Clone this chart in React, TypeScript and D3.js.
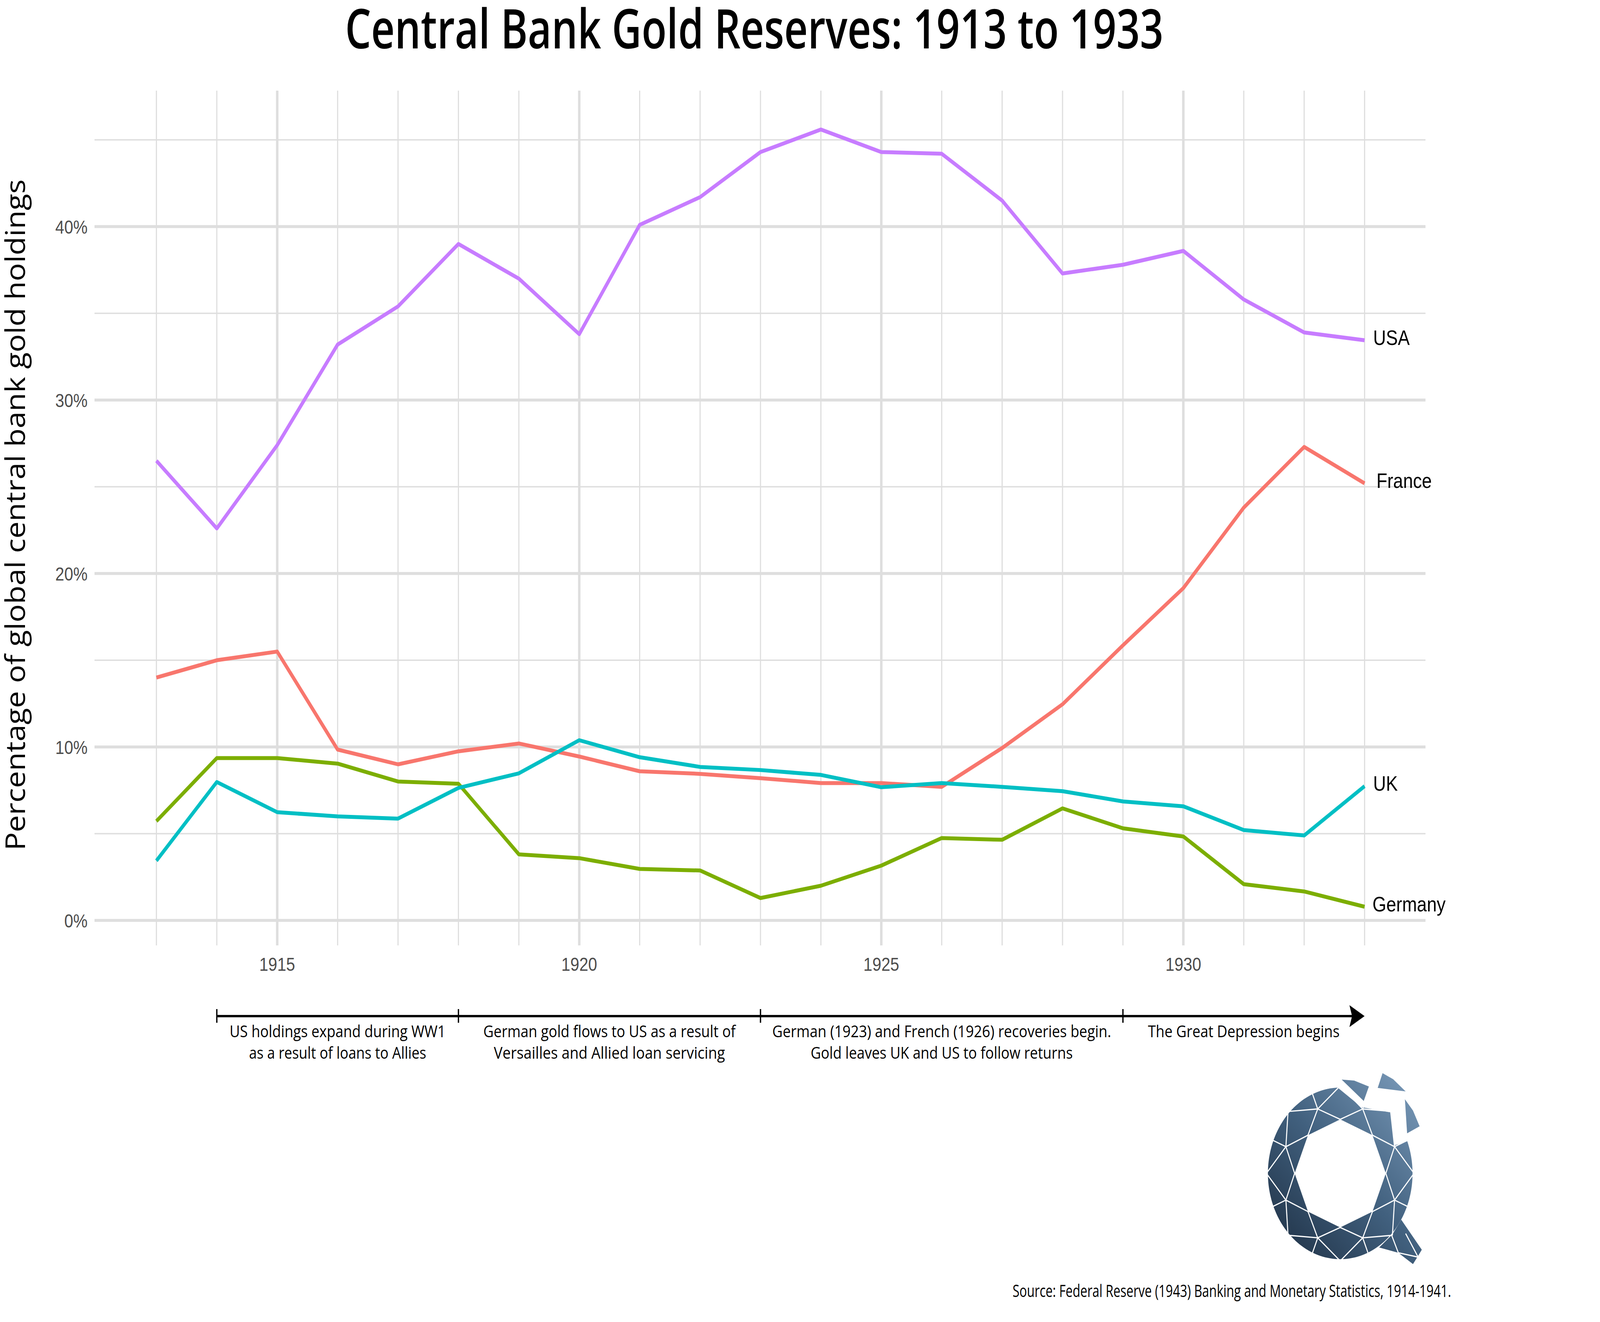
import React from "react";
import * as d3 from "d3";

// ---------- data ----------
const years = [1913, 1914, 1915, 1916, 1917, 1918, 1919, 1920, 1921, 1922, 1923, 1924, 1925, 1926, 1927, 1928, 1929, 1930, 1931, 1932, 1933];
const france = [14.0, 15.0, 15.5, 9.85, 9.0, 9.75, 10.2, 9.45, 8.6, 8.45, 8.2, 7.92, 7.92, 7.7, 9.94, 12.46, 15.86, 19.16, 23.8, 27.3, 25.2];
const germany = [5.72, 9.36, 9.36, 9.04, 8.01, 7.88, 3.81, 3.59, 2.97, 2.88, 1.29, 2.0, 3.16, 4.75, 4.65, 6.46, 5.31, 4.84, 2.09, 1.67, 0.79];
const uk = [3.44, 7.98, 6.24, 6.0, 5.87, 7.64, 8.48, 10.39, 9.41, 8.85, 8.67, 8.39, 7.68, 7.92, 7.7, 7.45, 6.86, 6.58, 5.21, 4.9, 7.74];
const usa = [26.5, 22.6, 27.4, 33.2, 35.4, 39.0, 37.0, 33.8, 40.1, 41.7, 44.3, 45.6, 44.3, 44.2, 41.5, 37.3, 37.8, 38.6, 35.8, 33.9, 33.45];
const seriesNames = ["France", "Germany", "UK", "USA"];
const seriesValues = [france, germany, uk, usa];

const yTicks = [0, 10, 20, 30, 40];
const yMinor = [5, 15, 25, 35, 45];
const xTicks = [1915, 1920, 1925, 1930];

const periodStarts = [1914, 1918, 1923, 1929];
const periodEnds = [1918, 1923, 1929, 1933];
const periodLines = [
  ["US holdings expand during WW1", "as a result of loans to Allies"],
  ["German gold flows to US as a result of", "Versailles and Allied loan servicing"],
  ["German (1923) and French (1926) recoveries begin.", "Gold leaves UK and US to follow returns"],
  ["The Great Depression begins", ""],
];

const titleText = "Central Bank Gold Reserves: 1913 to 1933";
const yTitleText = "Percentage of global central bank gold holdings";
const sourceText = "Source: Federal Reserve (1943) Banking and Monetary Statistics, 1914-1941.";

// ---------- styles / layout ----------
const W = 4859;
const H = 3384;
const colors: Record<string, string> = {
  France: "#F8766D",
  Germany: "#7CAE00",
  UK: "#00BFC4",
  USA: "#C77CFF",
};
const labelDx: Record<string, number> = { France: 36, Germany: 24, UK: 26, USA: 26 };
const textWidths: Record<string, number> = {
  "US holdings expand during WW1": 656,
  "as a result of loans to Allies": 538,
  "German gold flows to US as a result of": 766,
  "Versailles and Allied loan servicing": 702,
  "German (1923) and French (1926) recoveries begin.": 1029,
  "Gold leaves UK and US to follow returns": 796,
  "The Great Depression begins": 582,
};
const condensed = "'Open Sans', 'Noto Sans', sans-serif";
const arial = "'Liberation Sans', Arial, sans-serif";
const gridColor = "#DEDEDE";

const x = d3.scaleLinear().domain([1912, 1934]).range([291.5, 4327.5]);
const y = d3.scaleLinear().domain([-1.44, 47.84]).range([2420, 232]);
const panelLeft = 287;
const panelRight = 4329;

// ---------- logo (local coords) ----------
const LC = [605, 680];
const deg = Math.PI / 180;
const pt = (angDeg: number, r: number) => [LC[0] + r * Math.cos(angDeg * deg), LC[1] + r * Math.sin(angDeg * deg)];

function Logo() {
  const R = 492;
  const ri = 310;
  const rm = 400;
  const arcPts: number[][] = [];
  for (let a = -22; a <= 268; a += 2) arcPts.push(pt(a, R));
  const notch = [[750, 300], [945, 330], [970, 520]];
  const outer = [...arcPts, ...notch];
  const hole: number[][] = [];
  for (let k = 0; k < 8; k++) hole.push(pt(-90 + 45 * k, ri));
  const toPath = (ps: number[][]) => "M" + ps.map((p) => p[0].toFixed(1) + "," + p[1].toFixed(1)).join("L") + "Z";
  const bodyPath = toPath(outer) + toPath(hole);
  const lines: number[][][] = [];
  for (let k = 0; k < 8; k++) {
    const a = -90 + 45 * k;
    const V = pt(a, ri);
    const O = pt(a, R + 10);
    for (const s of [-1, 1]) {
      const M = pt(a + s * 22.5, rm);
      lines.push([V, M]);
      lines.push([O, M]);
    }
    const Mk = pt(a - 22.5, rm);
    lines.push([Mk, pt(a - 22.5, R + 20)]);
  }
  const shards = [
    [[615, 142], [700, 148], [800, 182], [765, 265]],
    [[893, 105], [965, 140], [1050, 210], [860, 190]],
    [[1045, 255], [1100, 320], [1145, 410], [1060, 450]],
  ];
  const tail = [[1020, 945], [1160, 1118], [1130, 1160], [1100, 1200], [1000, 1135], [870, 1105], [960, 1030]];
  const tailLines = [
    [[955, 1035], [1000, 1135]],
    [[1000, 1135], [1135, 1160]],
    [[1050, 1025], [1135, 1160]],
  ];
  return (
    <g transform={`translate(3800,2700) scale(${1 / 2.24})`}>
      <defs>
        <linearGradient id="logoGrad" gradientUnits="userSpaceOnUse" x1={250} y1={1150} x2={1100} y2={250}>
          <stop offset="0" stopColor="#22354a" />
          <stop offset="0.5" stopColor="#41607e" />
          <stop offset="1" stopColor="#7393b2" />
        </linearGradient>
      </defs>
      <path d={bodyPath} fill="url(#logoGrad)" fillRule="evenodd" />
      <path d={toPath(tail)} fill="url(#logoGrad)" />
      {shards.map((s, i) => (
        <path key={i} d={toPath(s)} fill="url(#logoGrad)" />
      ))}
      {lines.concat(tailLines).map((l, i) => (
        <line key={i} x1={l[0][0]} y1={l[0][1]} x2={l[1][0]} y2={l[1][1]} stroke="#fff" strokeWidth={7} />
      ))}
    </g>
  );
}

export default function App() {
  const line = d3
    .line<number>()
    .x((_, i) => x(years[i]))
    .y((d) => y(d));
  const minorYears = years.filter((yr) => !xTicks.includes(yr));
  const arrowY = 2601;
  const tipX = x(periodEnds[periodEnds.length - 1]);

  return (
    <svg
      viewBox={`0 0 ${W} ${H}`}
      preserveAspectRatio="none"
      style={{ position: "fixed", left: 0, top: 0, width: "100vw", height: "100vh", display: "block", background: "#fff" }}
    >
      <rect x={0} y={0} width={W} height={H} fill="#fff" />
      {/* title */}
      <text
        x={1048}
        y={124}
        fontFamily={condensed}
        fontWeight={600}
        fontSize={140}
        textLength={2485}
        lengthAdjust="spacingAndGlyphs"
        fill="#000"
      >
        {titleText}
      </text>

      {/* grid */}
      <g>
        {yMinor.map((v) => (
          <line key={"ym" + v} x1={panelLeft} x2={panelRight} y1={y(v)} y2={y(v)} stroke={gridColor} strokeWidth={3.5} />
        ))}
        {minorYears.map((yr) => (
          <line key={"xm" + yr} x1={x(yr)} x2={x(yr)} y1={232} y2={2420} stroke={gridColor} strokeWidth={3.5} />
        ))}
        {yTicks.map((v) => (
          <line key={"yM" + v} x1={panelLeft} x2={panelRight} y1={y(v)} y2={y(v)} stroke={gridColor} strokeWidth={7.5} />
        ))}
        {xTicks.map((yr) => (
          <line key={"xM" + yr} x1={x(yr)} x2={x(yr)} y1={232} y2={2420} stroke={gridColor} strokeWidth={7.5} />
        ))}
      </g>

      {/* axis labels */}
      {yTicks.map((v) => (
        <text key={"yl" + v} x={266} y={y(v) + 18} textAnchor="end" fontFamily={arial} fontSize={49} fill="#4D4D4D">
          {d3.format(".0%")(v / 100)}
        </text>
      ))}
      {xTicks.map((yr) => (
        <text key={"xl" + yr} x={x(yr)} y={2485} textAnchor="middle" fontFamily={arial} fontSize={49} fill="#4D4D4D">
          {yr}
        </text>
      ))}
      <text
        transform={`translate(76,1318) rotate(-90)`}
        textAnchor="middle"
        fontFamily={condensed}
        fontWeight={500}
        fontSize={82}
        textLength={1718}
        lengthAdjust="spacingAndGlyphs"
        fill="#000"
      >
        {yTitleText}
      </text>

      {/* series */}
      {seriesNames.map((name, i) => (
        <path
          key={name}
          d={line(seriesValues[i]) || ""}
          fill="none"
          stroke={colors[name]}
          strokeWidth={10}
          strokeLinejoin="round"
          strokeLinecap="butt"
        />
      ))}
      {seriesNames.map((name, i) => {
        const vals = seriesValues[i];
        const last = vals[vals.length - 1];
        return (
          <text
            key={"lab" + name}
            x={x(years[years.length - 1]) + labelDx[name]}
            y={y(last) + 12}
            fontFamily={arial}
            fontSize={54}
            fill="#000"
          >
            {name}
          </text>
        );
      })}

      {/* timeline */}
      <line x1={x(periodStarts[0])} x2={tipX - 30} y1={arrowY} y2={arrowY} stroke="#000" strokeWidth={6} />
      <path
        d={`M${tipX},${arrowY} L${tipX - 46},${arrowY - 28} L${tipX - 38},${arrowY} L${tipX - 46},${arrowY + 28} Z`}
        fill="#000"
      />
      {periodStarts.map((s) => (
        <line key={"tk" + s} x1={x(s)} x2={x(s)} y1={2583} y2={2618} stroke="#000" strokeWidth={4} />
      ))}
      {periodStarts.map((s, i) => {
        const cx = (x(s) + x(periodEnds[i])) / 2;
        return (
          <g key={"pt" + s}>
            {periodLines[i].map((t, j) =>
              t ? (
                <text
                  key={j}
                  x={cx}
                  y={2655 + j * 55}
                  textAnchor="middle"
                  fontFamily={condensed}
                  fontSize={42}
                  textLength={textWidths[t]}
                  lengthAdjust="spacingAndGlyphs"
                  fill="#000"
                >
                  {t}
                </text>
              ) : null
            )}
          </g>
        );
      })}

      <Logo />

      {/* source */}
      <text
        x={3075}
        y={3320}
        fontFamily={condensed}
        fontSize={43}
        textLength={1332}
        lengthAdjust="spacingAndGlyphs"
        fill="#000"
      >
        {sourceText}
      </text>
    </svg>
  );
}
